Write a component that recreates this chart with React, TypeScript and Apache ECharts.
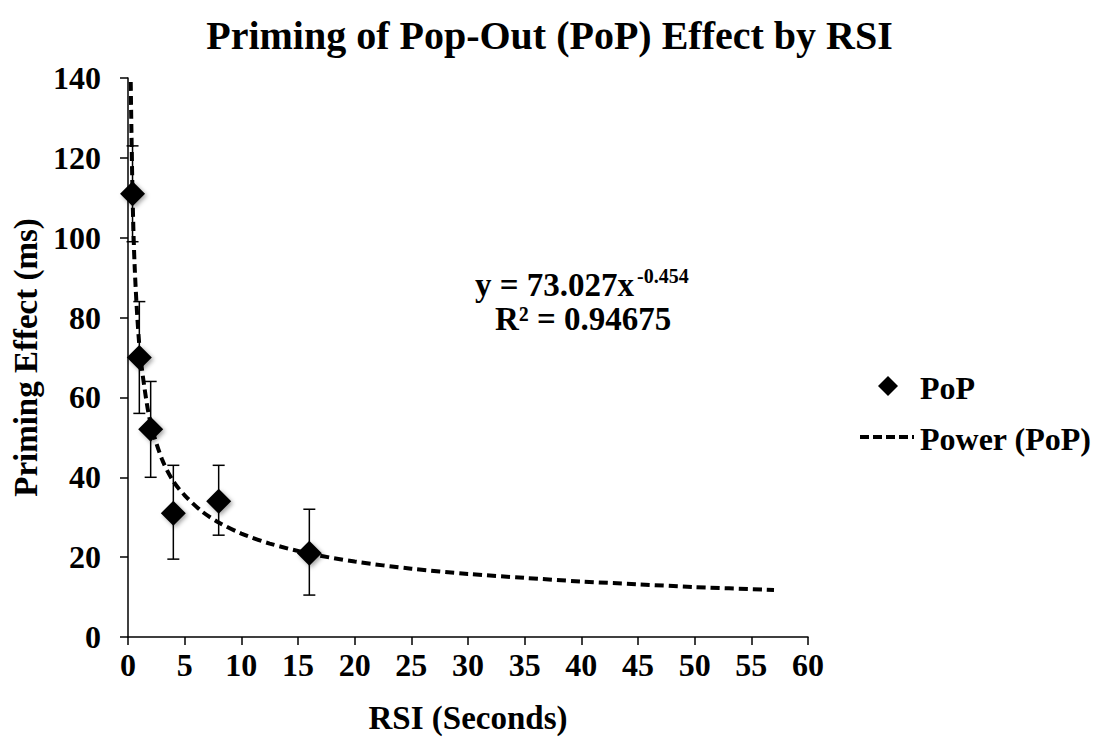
import React, { useEffect, useRef } from "react";
import * as echarts from "echarts";

// Measured data (RSI in seconds, priming effect in ms)
const rsi = [0.4, 1, 2, 4, 8, 16];
const priming = [111, 70, 52, 31, 34, 21];
const errUpper = [123, 84, 64, 43, 43, 32];
const errLower = [99, 56, 40, 19.5, 25.5, 10.5];

// Power trend line
const trendX = [0.24, 0.4, 0.6, 1, 1.5, 2, 3, 4, 5, 6.5, 8, 10, 12.5, 16, 20, 25, 30, 35, 40, 45, 50, 57];
const trendY = [139, 111, 92, 73, 61.5, 53.5, 44.5, 39, 35.5, 31.5, 28.7, 25.9, 23.4, 20.9, 18.9, 17.1, 15.8, 14.8, 13.9, 13.2, 12.5, 11.8];

const xTicks = { min: 0, max: 60, interval: 5 };
const yTicks = { min: 0, max: 140, interval: 20 };

const FONT = "'Liberation Serif', 'Times New Roman', serif";

export default function App() {
  const ref = useRef<HTMLDivElement>(null);
  useEffect(() => {
    document.body.style.margin = "0";
    const chart = echarts.init(ref.current!, null, { renderer: "svg" });
    const scatterData = rsi.map((x, i) => [x, priming[i]]);
    const errData = rsi.map((x, i) => [x, errLower[i], errUpper[i]]);
    const trendData = trendX.map((x, i) => [x, trendY[i]]);
    chart.setOption({
      animation: false,
      backgroundColor: "#ffffff",
      textStyle: { fontFamily: FONT, color: "#000" },
      title: {
        text: "Priming of Pop-Out (PoP) Effect by RSI",
        left: "center",
        top: 10,
        textStyle: { fontFamily: FONT, fontWeight: "bold", fontSize: 40, color: "#000" },
      },
      grid: { left: 128, top: 78, width: 680, height: 559, containLabel: false },
      xAxis: {
        type: "value",
        min: xTicks.min,
        max: xTicks.max,
        interval: xTicks.interval,
        name: "RSI (Seconds)",
        nameLocation: "middle",
        nameGap: 64,
        nameTextStyle: { fontFamily: FONT, fontWeight: "bold", fontSize: 33, color: "#000" },
        axisLine: { show: true, lineStyle: { color: "#000", width: 1.5 } },
        axisTick: { show: true, inside: false, length: 8, lineStyle: { color: "#000", width: 1.5 } },
        axisLabel: { fontFamily: FONT, fontWeight: "bold", fontSize: 32, color: "#000", margin: 12 },
        splitLine: { show: false },
      },
      yAxis: {
        type: "value",
        min: yTicks.min,
        max: yTicks.max,
        interval: yTicks.interval,
        name: "Priming Effect (ms)",
        nameLocation: "middle",
        nameGap: 85,
        nameRotate: 90,
        nameTextStyle: { fontFamily: FONT, fontWeight: "bold", fontSize: 33, color: "#000" },
        axisLine: { show: true, lineStyle: { color: "#000", width: 1.5 } },
        axisTick: { show: true, inside: false, length: 8, lineStyle: { color: "#000", width: 1.5 } },
        axisLabel: { fontFamily: FONT, fontWeight: "bold", fontSize: 32, color: "#000", margin: 27 },
        splitLine: { show: false },
      },
      series: [
        {
          name: "Power (PoP)",
          type: "line",
          data: trendData,
          smooth: 0.3,
          showSymbol: false,
          symbol: "none",
          lineStyle: { color: "#000", width: 4, type: [9, 5] },
          z: 2,
        },
        {
          name: "error",
          type: "custom",
          data: errData,
          z: 3,
          renderItem: (params: any, api: any) => {
            const x = api.value(0);
            const lo = api.coord([x, api.value(1)]);
            const hi = api.coord([x, api.value(2)]);
            const cap = 6;
            const style = { stroke: "#000", lineWidth: 1.5 };
            return {
              type: "group",
              children: [
                { type: "line", shape: { x1: lo[0], y1: lo[1], x2: hi[0], y2: hi[1] }, style },
                { type: "line", shape: { x1: hi[0] - cap, y1: hi[1], x2: hi[0] + cap, y2: hi[1] }, style },
                { type: "line", shape: { x1: lo[0] - cap, y1: lo[1], x2: lo[0] + cap, y2: lo[1] }, style },
              ],
            };
          },
        },
        {
          name: "PoP",
          type: "scatter",
          data: scatterData,
          symbol: "diamond",
          symbolSize: [25, 25],
          itemStyle: {
            color: "#000",
            opacity: 1,
            shadowBlur: 4,
            shadowOffsetX: 2,
            shadowOffsetY: 2,
            shadowColor: "rgba(0,0,0,0.35)",
          },
          z: 4,
        },
      ],
      graphic: [
        {
          type: "text",
          left: 475,
          top: 268,
          style: { text: "y = 73.027x", fontFamily: FONT, fontWeight: "bold", fontSize: 33, fill: "#000" },
        },
        {
          type: "text",
          left: 637,
          top: 266,
          style: { text: "-0.454", fontFamily: FONT, fontWeight: "bold", fontSize: 20, fill: "#000" },
        },
        {
          type: "text",
          left: 495,
          top: 302,
          style: { text: "R² = 0.94675", fontFamily: FONT, fontWeight: "bold", fontSize: 33, fill: "#000" },
        },
        {
          type: "polygon",
          shape: { points: [[888, 376], [898, 386], [888, 396], [878, 386]] },
          style: { fill: "#000" },
        },
        {
          type: "text",
          left: 920,
          top: 372,
          style: { text: "PoP", fontFamily: FONT, fontWeight: "bold", fontSize: 32, fill: "#000" },
        },
        {
          type: "line",
          shape: { x1: 860, y1: 437, x2: 914, y2: 437 },
          style: { stroke: "#000", lineWidth: 4, lineDash: [9, 4] },
        },
        {
          type: "text",
          left: 920,
          top: 423,
          style: { text: "Power (PoP)", fontFamily: FONT, fontWeight: "bold", fontSize: 32, fill: "#000" },
        },
      ],
    });
    return () => chart.dispose();
  }, []);
  return <div ref={ref} style={{ width: 1099, height: 742 }} />;
}
